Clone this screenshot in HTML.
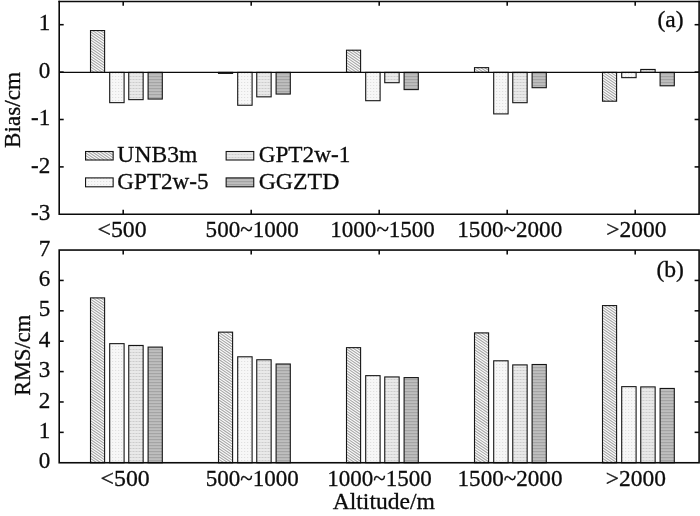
<!DOCTYPE html>
<html><head><meta charset="utf-8"><title>Bias and RMS by altitude</title>
<style>
html,body{margin:0;padding:0;background:#fff;}
body{width:700px;height:516px;overflow:hidden;}
svg{display:block;}
text{font-family:"Liberation Serif","Times New Roman",serif;font-size:23.6px;fill:#0c0c0c;stroke:#0c0c0c;stroke-width:0.3px;}
.ax{stroke:#0a0a0a;stroke-width:1.6;fill:none;}
.tk{stroke:#0a0a0a;stroke-width:1.55;}
.zl{stroke:#0a0a0a;stroke-width:1.15;}
.bar{stroke:#151515;stroke-width:1.1;}
.h{stroke:#a6a6a6;stroke-width:1.05;fill:none;}
</style></head><body>
<svg width="700" height="516" viewBox="0 0 700 516">
<defs>
<pattern id="p2" width="3" height="3" patternUnits="userSpaceOnUse">
<rect width="3" height="3" fill="#f7f7f7"/><rect x="1" y="1" width="1.2" height="1" fill="#e0e0e0"/></pattern>
<pattern id="p3" width="3" height="3" patternUnits="userSpaceOnUse">
<rect width="3" height="3" fill="#e9e9e9"/><rect x="0.5" y="1" width="2" height="1" fill="#cccccc"/></pattern>
<pattern id="p4" width="3" height="3" patternUnits="userSpaceOnUse">
<rect width="3" height="3" fill="#bebebe"/><rect y="1" width="3" height="1.2" fill="#a4a4a4"/></pattern>
</defs>
<rect width="700" height="516" fill="#fff"/>

<g id="panel-a">
<rect x="90.50" y="30.55" width="14.1" height="41.85" fill="#fcfcfc"/>
<path class="h" d="M104.5 30.5L104.6 30.6M100.5 30.6L104.6 33.3M96.5 30.6L104.6 36.0M92.6 30.6L104.6 38.7M90.5 31.8L104.6 41.4M90.5 34.5L104.6 44.1M90.5 37.2L104.6 46.8M90.5 39.9L104.6 49.5M90.5 42.6L104.6 52.2M90.5 45.3L104.6 54.9M90.5 48.0L104.6 57.6M90.5 50.7L104.6 60.3M90.5 53.4L104.6 63.0M90.5 56.1L104.6 65.7M90.5 58.8L104.6 68.4M90.5 61.5L104.6 71.1M90.5 64.2L102.5 72.4M90.5 66.9L98.5 72.4M90.5 69.6L94.6 72.4M90.5 72.3L90.6 72.4"/>
<rect class="bar" x="90.50" y="30.55" width="14.1" height="41.85" fill="none"/>
<rect class="bar" x="109.70" y="72.40" width="14.4" height="30.25" fill="url(#p2)"/>
<rect class="bar" x="128.75" y="72.40" width="14.4" height="27.25" fill="url(#p3)"/>
<rect class="bar" x="148.10" y="72.40" width="14.2" height="26.65" fill="url(#p4)"/>
<rect x="218.50" y="72.40" width="14.1" height="1.00" fill="#fcfcfc"/>
<path class="h" d="M229.6 72.4L231.0 73.4M225.6 72.4L227.1 73.4M221.6 72.4L223.1 73.4M218.5 73.0L219.1 73.4"/>
<rect class="bar" x="218.50" y="72.40" width="14.1" height="1.00" fill="none"/>
<rect class="bar" x="237.70" y="72.40" width="14.4" height="32.85" fill="url(#p2)"/>
<rect class="bar" x="256.75" y="72.40" width="14.4" height="24.45" fill="url(#p3)"/>
<rect class="bar" x="276.10" y="72.40" width="14.2" height="21.65" fill="url(#p4)"/>
<rect x="346.50" y="50.20" width="14.1" height="22.20" fill="#fcfcfc"/>
<path class="h" d="M359.7 50.2L360.6 50.8M355.7 50.2L360.6 53.5M351.8 50.2L360.6 56.2M347.8 50.2L360.6 58.9M346.5 52.0L360.6 61.6M346.5 54.7L360.6 64.3M346.5 57.4L360.6 67.0M346.5 60.1L360.6 69.7M346.5 62.8L360.6 72.4M346.5 65.5L356.6 72.4M346.5 68.2L352.6 72.4M346.5 70.9L348.7 72.4"/>
<rect class="bar" x="346.50" y="50.20" width="14.1" height="22.20" fill="none"/>
<rect class="bar" x="365.70" y="72.40" width="14.4" height="28.30" fill="url(#p2)"/>
<rect class="bar" x="384.75" y="72.40" width="14.4" height="10.30" fill="url(#p3)"/>
<rect class="bar" x="404.10" y="72.40" width="14.2" height="17.20" fill="url(#p4)"/>
<rect x="474.50" y="67.65" width="14.1" height="4.75" fill="#fcfcfc"/>
<path class="h" d="M484.6 67.7L488.6 70.3M480.7 67.6L487.6 72.4M476.7 67.6L483.7 72.4M474.5 68.9L479.7 72.4M474.5 71.6L475.7 72.4"/>
<rect class="bar" x="474.50" y="67.65" width="14.1" height="4.75" fill="none"/>
<rect class="bar" x="493.70" y="72.40" width="14.4" height="41.50" fill="url(#p2)"/>
<rect class="bar" x="512.75" y="72.40" width="14.4" height="30.30" fill="url(#p3)"/>
<rect class="bar" x="532.10" y="72.40" width="14.2" height="15.30" fill="url(#p4)"/>
<rect x="602.50" y="72.40" width="14.1" height="28.80" fill="#fcfcfc"/>
<path class="h" d="M614.7 72.4L616.6 73.7M610.7 72.4L616.6 76.4M606.8 72.4L616.6 79.1M602.8 72.4L616.6 81.8M602.5 74.9L616.6 84.5M602.5 77.6L616.6 87.2M602.5 80.3L616.6 89.9M602.5 83.0L616.6 92.6M602.5 85.7L616.6 95.3M602.5 88.4L616.6 98.0M602.5 91.1L616.6 100.7M602.5 93.8L613.4 101.2M602.5 96.5L609.4 101.2M602.5 99.2L605.4 101.2"/>
<rect class="bar" x="602.50" y="72.40" width="14.1" height="28.80" fill="none"/>
<rect class="bar" x="621.70" y="72.40" width="14.4" height="5.25" fill="url(#p2)"/>
<rect class="bar" x="640.75" y="69.45" width="14.4" height="2.95" fill="url(#p3)"/>
<rect class="bar" x="660.10" y="72.40" width="14.2" height="13.40" fill="url(#p4)"/>
<path class="ax" d="M59.2 0.7799999999999999V214.3H699.1V0.7799999999999999"/>
<line class="ax" style="stroke-width:1.35" x1="58.400000000000006" x2="699.9" y1="1.45" y2="1.45"/>
<line class="zl" x1="59.2" x2="699.1" y1="72.39999999999999" y2="72.39999999999999"/>
<line class="tk" x1="59.2" x2="63.7" y1="24.70" y2="24.70"/>
<line class="tk" x1="699.1" x2="694.6" y1="24.70" y2="24.70"/>
<text transform="translate(50.20 30.30) scale(0.97 1)" style="font-size:23.8px" text-anchor="end">1</text>
<line class="tk" x1="59.2" x2="63.7" y1="72.10" y2="72.10"/>
<line class="tk" x1="699.1" x2="694.6" y1="72.10" y2="72.10"/>
<text transform="translate(50.20 77.70) scale(0.97 1)" style="font-size:23.8px" text-anchor="end">0</text>
<line class="tk" x1="59.2" x2="63.7" y1="119.50" y2="119.50"/>
<line class="tk" x1="699.1" x2="694.6" y1="119.50" y2="119.50"/>
<text transform="translate(50.20 125.10) scale(0.97 1)" style="font-size:23.8px" text-anchor="end">-1</text>
<line class="tk" x1="59.2" x2="63.7" y1="166.90" y2="166.90"/>
<line class="tk" x1="699.1" x2="694.6" y1="166.90" y2="166.90"/>
<text transform="translate(50.20 172.50) scale(0.97 1)" style="font-size:23.8px" text-anchor="end">-2</text>
<text transform="translate(50.20 219.90) scale(0.97 1)" style="font-size:23.8px" text-anchor="end">-3</text>
<line class="tk" x1="123.2" x2="123.2" y1="1.3" y2="5.8"/>
<line class="tk" x1="123.2" x2="123.2" y1="214.3" y2="209.8"/>
<text transform="translate(122.10 237.00)" style="font-size:23.8px" text-anchor="middle">&lt;500</text>
<line class="tk" x1="251.2" x2="251.2" y1="1.3" y2="5.8"/>
<line class="tk" x1="251.2" x2="251.2" y1="214.3" y2="209.8"/>
<text transform="translate(252.20 237.00) scale(0.969 1)" style="font-size:23.8px" text-anchor="middle">500~1000</text>
<line class="tk" x1="379.2" x2="379.2" y1="1.3" y2="5.8"/>
<line class="tk" x1="379.2" x2="379.2" y1="214.3" y2="209.8"/>
<text transform="translate(382.60 237.00) scale(0.967 1)" style="font-size:23.8px" text-anchor="middle">1000~1500</text>
<line class="tk" x1="507.2" x2="507.2" y1="1.3" y2="5.8"/>
<line class="tk" x1="507.2" x2="507.2" y1="214.3" y2="209.8"/>
<text transform="translate(509.75 237.00) scale(0.971 1)" style="font-size:23.8px" text-anchor="middle">1500~2000</text>
<line class="tk" x1="635.2" x2="635.2" y1="1.3" y2="5.8"/>
<line class="tk" x1="635.2" x2="635.2" y1="214.3" y2="209.8"/>
<text transform="translate(636.45 237.00) scale(0.987 1)" style="font-size:23.8px" text-anchor="middle">&gt;2000</text>
<text transform="translate(20.20 110.00) rotate(-90) scale(0.98 1)" text-anchor="middle">Bias/cm</text>
<text transform="translate(670.50 26.60)" text-anchor="middle">(a)</text>
<rect x="85.55" y="151.5" width="27.6" height="8.5" fill="#fcfcfc"/>
<path class="h" d="M111.6 151.5L113.2 152.5M107.6 151.5L113.2 155.2M103.7 151.5L113.2 157.9M99.7 151.5L112.2 160.0M95.7 151.5L108.2 160.0M91.8 151.5L104.3 160.0M87.8 151.5L100.3 160.0M85.5 152.7L96.3 160.0M85.5 155.4L92.4 160.0M85.5 158.1L88.4 160.0"/>
<rect class="bar" x="85.55" y="151.5" width="27.6" height="8.5" fill="none"/>
<text transform="translate(117.35 162.10) scale(0.983 1)" style="font-size:24.0px" text-anchor="start">UNB3m</text>
<rect class="bar" x="85.55" y="177.9" width="27.6" height="8.9" fill="url(#p2)"/>
<text transform="translate(117.35 188.80) scale(0.964 1)" style="font-size:24.0px" text-anchor="start">GPT2w-5</text>
<rect class="bar" x="226.15" y="151.5" width="27.6" height="8.5" fill="url(#p3)"/>
<text transform="translate(258.65 162.10) scale(0.969 1)" style="font-size:24.0px" text-anchor="start">GPT2w-1</text>
<rect class="bar" x="226.15" y="177.9" width="27.6" height="8.9" fill="url(#p4)"/>
<text transform="translate(258.65 188.80) scale(0.993 1)" style="font-size:24.0px" text-anchor="start">GGZTD</text>
</g>
<g id="panel-b">
<rect x="90.50" y="297.90" width="14.1" height="164.85" fill="#fcfcfc"/>
<path class="h" d="M100.6 297.9L104.6 300.6M96.6 297.9L104.6 303.3M92.6 297.9L104.6 306.0M90.5 299.1L104.6 308.7M90.5 301.8L104.6 311.4M90.5 304.5L104.6 314.1M90.5 307.2L104.6 316.8M90.5 309.9L104.6 319.5M90.5 312.6L104.6 322.2M90.5 315.3L104.6 324.9M90.5 318.0L104.6 327.6M90.5 320.7L104.6 330.3M90.5 323.4L104.6 333.0M90.5 326.1L104.6 335.7M90.5 328.8L104.6 338.4M90.5 331.5L104.6 341.1M90.5 334.2L104.6 343.8M90.5 336.9L104.6 346.5M90.5 339.6L104.6 349.2M90.5 342.3L104.6 351.9M90.5 345.0L104.6 354.6M90.5 347.7L104.6 357.3M90.5 350.4L104.6 360.0M90.5 353.1L104.6 362.7M90.5 355.8L104.6 365.4M90.5 358.5L104.6 368.1M90.5 361.2L104.6 370.8M90.5 363.9L104.6 373.5M90.5 366.6L104.6 376.2M90.5 369.3L104.6 378.9M90.5 372.0L104.6 381.6M90.5 374.7L104.6 384.3M90.5 377.4L104.6 387.0M90.5 380.1L104.6 389.7M90.5 382.8L104.6 392.4M90.5 385.5L104.6 395.1M90.5 388.2L104.6 397.8M90.5 390.9L104.6 400.5M90.5 393.6L104.6 403.2M90.5 396.3L104.6 405.9M90.5 399.0L104.6 408.6M90.5 401.7L104.6 411.3M90.5 404.4L104.6 414.0M90.5 407.1L104.6 416.7M90.5 409.8L104.6 419.4M90.5 412.5L104.6 422.1M90.5 415.2L104.6 424.8M90.5 417.9L104.6 427.5M90.5 420.6L104.6 430.2M90.5 423.3L104.6 432.9M90.5 426.0L104.6 435.6M90.5 428.7L104.6 438.3M90.5 431.4L104.6 441.0M90.5 434.1L104.6 443.7M90.5 436.8L104.6 446.4M90.5 439.5L104.6 449.1M90.5 442.2L104.6 451.8M90.5 444.9L104.6 454.5M90.5 447.6L104.6 457.2M90.5 450.3L104.6 459.9M90.5 453.0L104.6 462.6M90.5 455.7L100.8 462.8M90.5 458.4L96.8 462.8M90.5 461.1L92.9 462.8"/>
<rect class="bar" x="90.50" y="297.90" width="14.1" height="164.85" fill="none"/>
<rect class="bar" x="109.70" y="343.65" width="14.4" height="119.10" fill="url(#p2)"/>
<rect class="bar" x="128.75" y="345.45" width="14.4" height="117.30" fill="url(#p3)"/>
<rect class="bar" x="148.10" y="347.10" width="14.2" height="115.65" fill="url(#p4)"/>
<rect x="218.50" y="332.15" width="14.1" height="130.60" fill="#fcfcfc"/>
<path class="h" d="M230.4 332.1L232.6 333.7M226.4 332.1L232.6 336.4M222.4 332.1L232.6 339.1M218.5 332.2L232.6 341.8M218.5 334.9L232.6 344.5M218.5 337.6L232.6 347.2M218.5 340.3L232.6 349.9M218.5 343.0L232.6 352.6M218.5 345.7L232.6 355.3M218.5 348.4L232.6 358.0M218.5 351.1L232.6 360.7M218.5 353.8L232.6 363.4M218.5 356.5L232.6 366.1M218.5 359.2L232.6 368.8M218.5 361.9L232.6 371.5M218.5 364.6L232.6 374.2M218.5 367.3L232.6 376.9M218.5 370.0L232.6 379.6M218.5 372.7L232.6 382.3M218.5 375.4L232.6 385.0M218.5 378.1L232.6 387.7M218.5 380.8L232.6 390.4M218.5 383.5L232.6 393.1M218.5 386.2L232.6 395.8M218.5 388.9L232.6 398.5M218.5 391.6L232.6 401.2M218.5 394.3L232.6 403.9M218.5 397.0L232.6 406.6M218.5 399.7L232.6 409.3M218.5 402.4L232.6 412.0M218.5 405.1L232.6 414.7M218.5 407.8L232.6 417.4M218.5 410.5L232.6 420.1M218.5 413.2L232.6 422.8M218.5 415.9L232.6 425.5M218.5 418.6L232.6 428.2M218.5 421.3L232.6 430.9M218.5 424.0L232.6 433.6M218.5 426.7L232.6 436.3M218.5 429.4L232.6 439.0M218.5 432.1L232.6 441.7M218.5 434.8L232.6 444.4M218.5 437.5L232.6 447.1M218.5 440.2L232.6 449.8M218.5 442.9L232.6 452.5M218.5 445.6L232.6 455.2M218.5 448.3L232.6 457.9M218.5 451.0L232.6 460.6M218.5 453.7L231.8 462.8M218.5 456.4L227.9 462.8M218.5 459.1L223.9 462.8M218.5 461.8L219.9 462.8"/>
<rect class="bar" x="218.50" y="332.15" width="14.1" height="130.60" fill="none"/>
<rect class="bar" x="237.70" y="356.80" width="14.4" height="105.95" fill="url(#p2)"/>
<rect class="bar" x="256.75" y="359.75" width="14.4" height="103.00" fill="url(#p3)"/>
<rect class="bar" x="276.10" y="364.00" width="14.2" height="98.75" fill="url(#p4)"/>
<rect x="346.50" y="347.65" width="14.1" height="115.10" fill="#fcfcfc"/>
<path class="h" d="M360.4 347.6L360.6 347.8M356.4 347.6L360.6 350.5M352.4 347.6L360.6 353.2M348.5 347.7L360.6 355.9M346.5 349.0L360.6 358.6M346.5 351.7L360.6 361.3M346.5 354.4L360.6 364.0M346.5 357.1L360.6 366.7M346.5 359.8L360.6 369.4M346.5 362.5L360.6 372.1M346.5 365.2L360.6 374.8M346.5 367.9L360.6 377.5M346.5 370.6L360.6 380.2M346.5 373.3L360.6 382.9M346.5 376.0L360.6 385.6M346.5 378.7L360.6 388.3M346.5 381.4L360.6 391.0M346.5 384.1L360.6 393.7M346.5 386.8L360.6 396.4M346.5 389.5L360.6 399.1M346.5 392.2L360.6 401.8M346.5 394.9L360.6 404.5M346.5 397.6L360.6 407.2M346.5 400.3L360.6 409.9M346.5 403.0L360.6 412.6M346.5 405.7L360.6 415.3M346.5 408.4L360.6 418.0M346.5 411.1L360.6 420.7M346.5 413.8L360.6 423.4M346.5 416.5L360.6 426.1M346.5 419.2L360.6 428.8M346.5 421.9L360.6 431.5M346.5 424.6L360.6 434.2M346.5 427.3L360.6 436.9M346.5 430.0L360.6 439.6M346.5 432.7L360.6 442.3M346.5 435.4L360.6 445.0M346.5 438.1L360.6 447.7M346.5 440.8L360.6 450.4M346.5 443.5L360.6 453.1M346.5 446.2L360.6 455.8M346.5 448.9L360.6 458.5M346.5 451.6L360.6 461.2M346.5 454.3L358.9 462.8M346.5 457.0L354.9 462.8M346.5 459.7L351.0 462.8M346.5 462.4L347.0 462.8"/>
<rect class="bar" x="346.50" y="347.65" width="14.1" height="115.10" fill="none"/>
<rect class="bar" x="365.70" y="375.65" width="14.4" height="87.10" fill="url(#p2)"/>
<rect class="bar" x="384.75" y="376.95" width="14.4" height="85.80" fill="url(#p3)"/>
<rect class="bar" x="404.10" y="377.60" width="14.2" height="85.15" fill="url(#p4)"/>
<rect x="474.50" y="332.90" width="14.1" height="129.85" fill="#fcfcfc"/>
<path class="h" d="M485.6 332.9L488.6 334.9M481.6 332.9L488.6 337.6M477.6 332.9L488.6 340.3M474.5 333.5L488.6 343.0M474.5 336.2L488.6 345.7M474.5 338.9L488.6 348.4M474.5 341.6L488.6 351.1M474.5 344.3L488.6 353.8M474.5 347.0L488.6 356.5M474.5 349.7L488.6 359.2M474.5 352.4L488.6 361.9M474.5 355.1L488.6 364.6M474.5 357.8L488.6 367.3M474.5 360.5L488.6 370.0M474.5 363.2L488.6 372.7M474.5 365.9L488.6 375.4M474.5 368.6L488.6 378.1M474.5 371.3L488.6 380.8M474.5 374.0L488.6 383.5M474.5 376.7L488.6 386.2M474.5 379.4L488.6 388.9M474.5 382.1L488.6 391.6M474.5 384.8L488.6 394.3M474.5 387.5L488.6 397.0M474.5 390.2L488.6 399.7M474.5 392.9L488.6 402.4M474.5 395.6L488.6 405.1M474.5 398.3L488.6 407.8M474.5 401.0L488.6 410.5M474.5 403.7L488.6 413.2M474.5 406.4L488.6 415.9M474.5 409.1L488.6 418.6M474.5 411.8L488.6 421.3M474.5 414.5L488.6 424.0M474.5 417.2L488.6 426.7M474.5 419.9L488.6 429.4M474.5 422.6L488.6 432.1M474.5 425.3L488.6 434.8M474.5 428.0L488.6 437.5M474.5 430.7L488.6 440.2M474.5 433.4L488.6 442.9M474.5 436.1L488.6 445.6M474.5 438.8L488.6 448.3M474.5 441.5L488.6 451.0M474.5 444.2L488.6 453.7M474.5 446.9L488.6 456.4M474.5 449.6L488.6 459.1M474.5 452.3L488.6 461.8M474.5 455.0L486.0 462.8M474.5 457.7L482.0 462.8M474.5 460.4L478.0 462.8"/>
<rect class="bar" x="474.50" y="332.90" width="14.1" height="129.85" fill="none"/>
<rect class="bar" x="493.70" y="360.80" width="14.4" height="101.95" fill="url(#p2)"/>
<rect class="bar" x="512.75" y="364.90" width="14.4" height="97.85" fill="url(#p3)"/>
<rect class="bar" x="532.10" y="364.50" width="14.2" height="98.25" fill="url(#p4)"/>
<rect x="602.50" y="305.60" width="14.1" height="157.15" fill="#fcfcfc"/>
<path class="h" d="M616.2 305.6L616.6 305.9M612.2 305.6L616.6 308.6M608.2 305.6L616.6 311.3M604.3 305.6L616.6 314.0M602.5 307.1L616.6 316.7M602.5 309.8L616.6 319.4M602.5 312.5L616.6 322.1M602.5 315.2L616.6 324.8M602.5 317.9L616.6 327.5M602.5 320.6L616.6 330.2M602.5 323.3L616.6 332.9M602.5 326.0L616.6 335.6M602.5 328.7L616.6 338.3M602.5 331.4L616.6 341.0M602.5 334.1L616.6 343.7M602.5 336.8L616.6 346.4M602.5 339.5L616.6 349.1M602.5 342.2L616.6 351.8M602.5 344.9L616.6 354.5M602.5 347.6L616.6 357.2M602.5 350.3L616.6 359.9M602.5 353.0L616.6 362.6M602.5 355.7L616.6 365.3M602.5 358.4L616.6 368.0M602.5 361.1L616.6 370.7M602.5 363.8L616.6 373.4M602.5 366.5L616.6 376.1M602.5 369.2L616.6 378.8M602.5 371.9L616.6 381.5M602.5 374.6L616.6 384.2M602.5 377.3L616.6 386.9M602.5 380.0L616.6 389.6M602.5 382.7L616.6 392.3M602.5 385.4L616.6 395.0M602.5 388.1L616.6 397.7M602.5 390.8L616.6 400.4M602.5 393.5L616.6 403.1M602.5 396.2L616.6 405.8M602.5 398.9L616.6 408.5M602.5 401.6L616.6 411.2M602.5 404.3L616.6 413.9M602.5 407.0L616.6 416.6M602.5 409.7L616.6 419.3M602.5 412.4L616.6 422.0M602.5 415.1L616.6 424.7M602.5 417.8L616.6 427.4M602.5 420.5L616.6 430.1M602.5 423.2L616.6 432.8M602.5 425.9L616.6 435.5M602.5 428.6L616.6 438.2M602.5 431.3L616.6 440.9M602.5 434.0L616.6 443.6M602.5 436.7L616.6 446.3M602.5 439.4L616.6 449.0M602.5 442.1L616.6 451.7M602.5 444.8L616.6 454.4M602.5 447.5L616.6 457.1M602.5 450.2L616.6 459.8M602.5 452.9L616.6 462.5M602.5 455.6L613.0 462.8M602.5 458.3L609.0 462.8M602.5 461.0L605.1 462.8"/>
<rect class="bar" x="602.50" y="305.60" width="14.1" height="157.15" fill="none"/>
<rect class="bar" x="621.70" y="386.65" width="14.4" height="76.10" fill="url(#p2)"/>
<rect class="bar" x="640.75" y="386.90" width="14.4" height="75.85" fill="url(#p3)"/>
<rect class="bar" x="660.10" y="388.45" width="14.2" height="74.30" fill="url(#p4)"/>
<rect class="ax" x="59.2" y="250.05" width="639.9" height="212.7"/>
<text transform="translate(50.20 468.35) scale(0.97 1)" style="font-size:23.8px" text-anchor="end">0</text>
<line class="tk" x1="59.2" x2="63.7" y1="432.36" y2="432.36"/>
<line class="tk" x1="699.1" x2="694.6" y1="432.36" y2="432.36"/>
<text transform="translate(50.20 437.96) scale(0.97 1)" style="font-size:23.8px" text-anchor="end">1</text>
<line class="tk" x1="59.2" x2="63.7" y1="401.98" y2="401.98"/>
<line class="tk" x1="699.1" x2="694.6" y1="401.98" y2="401.98"/>
<text transform="translate(50.20 407.58) scale(0.97 1)" style="font-size:23.8px" text-anchor="end">2</text>
<line class="tk" x1="59.2" x2="63.7" y1="371.59" y2="371.59"/>
<line class="tk" x1="699.1" x2="694.6" y1="371.59" y2="371.59"/>
<text transform="translate(50.20 377.19) scale(0.97 1)" style="font-size:23.8px" text-anchor="end">3</text>
<line class="tk" x1="59.2" x2="63.7" y1="341.21" y2="341.21"/>
<line class="tk" x1="699.1" x2="694.6" y1="341.21" y2="341.21"/>
<text transform="translate(50.20 346.81) scale(0.97 1)" style="font-size:23.8px" text-anchor="end">4</text>
<line class="tk" x1="59.2" x2="63.7" y1="310.82" y2="310.82"/>
<line class="tk" x1="699.1" x2="694.6" y1="310.82" y2="310.82"/>
<text transform="translate(50.20 316.42) scale(0.97 1)" style="font-size:23.8px" text-anchor="end">5</text>
<line class="tk" x1="59.2" x2="63.7" y1="280.44" y2="280.44"/>
<line class="tk" x1="699.1" x2="694.6" y1="280.44" y2="280.44"/>
<text transform="translate(50.20 286.04) scale(0.97 1)" style="font-size:23.8px" text-anchor="end">6</text>
<text transform="translate(50.20 255.65) scale(0.97 1)" style="font-size:23.8px" text-anchor="end">7</text>
<line class="tk" x1="123.2" x2="123.2" y1="250.05" y2="254.55"/>
<text transform="translate(125.15 485.65)" style="font-size:23.8px" text-anchor="middle">&lt;500</text>
<line class="tk" x1="251.2" x2="251.2" y1="250.05" y2="254.55"/>
<text transform="translate(252.30 485.65) scale(0.969 1)" style="font-size:23.8px" text-anchor="middle">500~1000</text>
<line class="tk" x1="379.2" x2="379.2" y1="250.05" y2="254.55"/>
<text transform="translate(379.40 485.65) scale(0.967 1)" style="font-size:23.8px" text-anchor="middle">1000~1500</text>
<line class="tk" x1="507.2" x2="507.2" y1="250.05" y2="254.55"/>
<text transform="translate(510.00 485.65) scale(0.971 1)" style="font-size:23.8px" text-anchor="middle">1500~2000</text>
<line class="tk" x1="635.2" x2="635.2" y1="250.05" y2="254.55"/>
<text transform="translate(635.90 485.65) scale(0.987 1)" style="font-size:23.8px" text-anchor="middle">&gt;2000</text>
<text transform="translate(30.00 355.40) rotate(-90) scale(0.95 1)" text-anchor="middle">RMS/cm</text>
<text transform="translate(670.20 276.90)" text-anchor="middle">(b)</text>
<text transform="translate(383.80 509.00)" text-anchor="middle">Altitude/m</text>
</g>
</svg></body></html>
